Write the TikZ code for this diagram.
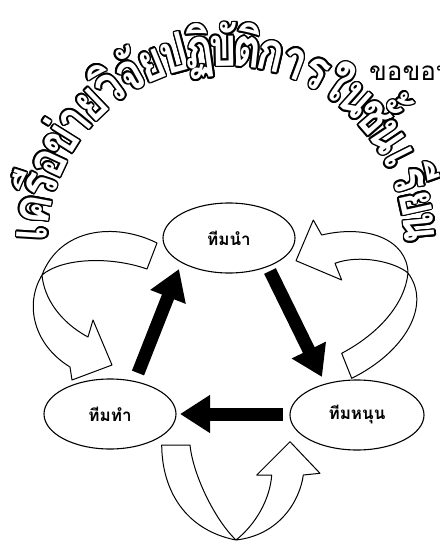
\documentclass[tikz,border=0pt]{standalone}
\usepackage{fontspec}
\usepackage{contour}
\usetikzlibrary{arrows.meta,shapes.geometric}
\newfontfamily\thaifont[Script=Thai]{Loma}
\newfontfamily\titlethai[Script=Thai,FakeStretch=0.8]{Loma}
\newcommand\titlefont{\titlethai\bfseries\fontsize{54}{54}\selectfont}
\contourlength{1.6pt}
\newcommand\titlelist{เ,ค,รื,อ,ข่,า,ย,วิ,จั,ย,ป,ฏิ,บั,ติ,ก,า,ร,ใ,น,ชั้,น,เ,รี,ย,น}
\begin{document}
\begin{tikzpicture}[x=1pt,y=-1pt,
  team/.style={ellipse,draw,line width=1.1pt,fill=white,minimum width=132pt,minimum height=70pt,inner sep=0pt,
    font=\thaifont\bfseries\fontsize{17}{20}\selectfont},
  bigarrow/.style={line width=13pt,-{Triangle[length=30pt,width=36pt]}},
  hollow/.style={line width=1pt,line join=round},
  titlechar/.style={inner sep=0pt,anchor=base,text=white,font=\titlefont}]
\useasboundingbox (0,0) rectangle (440,542);
\fill[white] (0,0) rectangle (440,542);

% ---- title along the arc ----
\foreach \tc [count=\ti from 0] in \titlelist {%
  \pgfmathsetmacro\ang{176.5-\ti*7.1333}%
  \pgfmathsetmacro\px{226+179*cos(\ang)}%
  \pgfmathsetmacro\py{245-179*sin(\ang)}%
  \node[titlechar,rotate=\ang-90] (t\ti) at (\px,\py) {\contour{black}{\tc}};
}

\node[anchor=base west,inner sep=0pt,font=\thaifont\fontsize{26}{26}\selectfont] (thanks) at (369,80) {ขอขอบ};

% ---- hollow curved arrows ----
% left
\coordinate (lA) at (157,243); \coordinate (lC) at (147,269);
\coordinate (lP) at (42,275);
\coordinate (lBi) at (88,337); \coordinate (lBo) at (70,367);
\draw[hollow] (lA) .. controls (115,222) and (60,228) .. (lP)
  .. controls (24,305) and (34,345) .. (lBo) -- (72,380) -- (112,365) -- (93,320) -- (lBi)
  .. controls (60,322) and (44,298) .. (lP)
  .. controls (62,258) and (110,256) .. (lC) -- cycle;
% right
\coordinate (rT1) at (341.7,353.3); \coordinate (rT2) at (351.7,378.3);
\coordinate (rP) at (408,273);
\coordinate (rBo) at (321.7,235); \coordinate (rBi) at (335,263.3);
\draw[hollow] (rT1) .. controls (380,333) and (405,303) .. (rP)
  .. controls (407,240) and (368,224) .. (rBo) -- (313.3,220) -- (296,260.7) -- (341.7,280) -- (rBi)
  .. controls (360,254) and (395,262) .. (rP)
  .. controls (432,305) and (405,352) .. (rT2) -- cycle;
% bottom
\coordinate (bL) at (161.7,445); \coordinate (bR) at (190,445);
\coordinate (bP) at (236,540);
\coordinate (bBi) at (271.7,475); \coordinate (bBo) at (303.3,475);
\draw[hollow] (bL) .. controls (162,490) and (185,530) .. (bP)
  .. controls (280,535) and (300,500) .. (bBo) -- (320,473.3) -- (290,441.7) -- (256.7,475) -- (bBi)
  .. controls (270,500) and (255,525) .. (bP)
  .. controls (215,520) and (193,475) .. (bR) -- cycle;

% ---- team ellipses ----
\node[team] (nam) at (229,238) {ทีมนำ};
\node[team] (tham) at (110,414) {ทีมทำ};
\node[team,minimum width=134pt] (nun) at (357,415) {ทีมหนุน};

% ---- black arrows ----
\coordinate (a1s) at (138,373); \coordinate (a1e) at (179,269);
\coordinate (a2s) at (270,271); \coordinate (a2e) at (322,377);
\coordinate (a3s) at (283,414); \coordinate (a3e) at (180,414);
\draw[bigarrow] (a1s) -- (a1e);
\draw[bigarrow] (a2s) -- (a2e);
\draw[bigarrow] (a3s) -- (a3e);
\end{tikzpicture}
\end{document}
